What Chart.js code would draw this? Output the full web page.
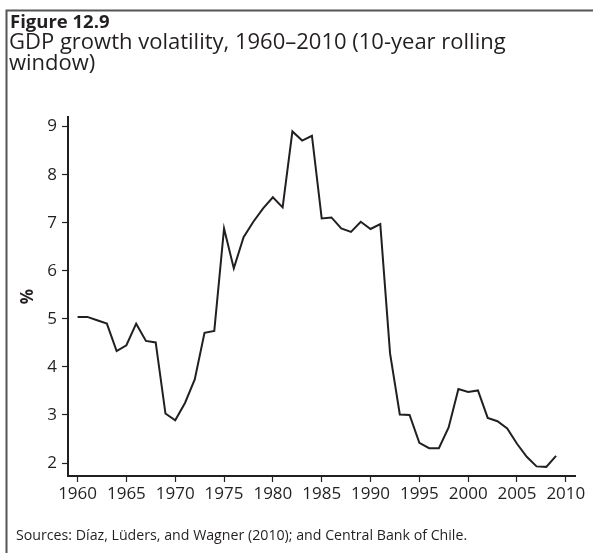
<!DOCTYPE html>
<html>
<head>
<meta charset="utf-8">
<style>
  html, body { margin: 0; padding: 0; background: #fff; }
  #wrap { width: 593px; height: 553px; position: relative; }
</style>
</head>
<body>
<div id="wrap"><canvas id="c"></canvas></div>
<script src="https://cdn.jsdelivr.net/npm/chart.js@4/dist/chart.umd.min.js"></script>
<script>
// GDP growth volatility, 10-year rolling window (%)
const years = [
  1960, 1961, 1962, 1963, 1964, 1965, 1966, 1967, 1968, 1969,
  1970, 1971, 1972, 1973, 1974, 1975, 1976, 1977, 1978, 1979,
  1980, 1981, 1982, 1983, 1984, 1985, 1986, 1987, 1988, 1989,
  1990, 1991, 1992, 1993, 1994, 1995, 1996, 1997, 1998, 1999,
  2000, 2001, 2002, 2003, 2004, 2005, 2006, 2007, 2008, 2009
];
const volatility = [
  5.04, 5.04, 4.97, 4.90, 4.33, 4.45, 4.90, 4.54, 4.51, 3.03,
  2.89, 3.25, 3.74, 4.71, 4.75, 6.88, 6.05, 6.70, 7.02, 7.30,
  7.53, 7.32, 8.90, 8.71, 8.81, 7.09, 7.11, 6.88, 6.81, 7.02,
  6.87, 6.97, 4.28, 3.01, 3.00, 2.42, 2.31, 2.31, 2.74, 3.54,
  3.48, 3.51, 2.94, 2.87, 2.72, 2.40, 2.13, 1.93, 1.92, 2.15
];
const xTickLabels = [1960, 1965, 1970, 1975, 1980, 1985, 1990, 1995, 2000, 2005, 2010];
const yTickLabels = [2, 3, 4, 5, 6, 7, 8, 9];

const figureLabel = 'Figure 12.9';
const titleLines = ['GDP growth volatility, 1960\u20132010 (10-year rolling', 'window)'];
const sourceNote = 'Sources: D\u00edaz, L\u00fcders, and Wagner (2010); and Central Bank of Chile.';

const INK = '#231f20';
const FONT = '"Open Sans", "Noto Sans", sans-serif';

// Frame, heading and source note around the plot
const framePlugin = {
  id: 'frame',
  beforeDraw(chart) {
    const ctx = chart.ctx;
    ctx.save();
    ctx.fillStyle = '#fff';
    ctx.fillRect(0, 0, chart.width, chart.height);
    ctx.restore();
  },
  afterDraw(chart) {
    const ctx = chart.ctx;
    ctx.save();
    ctx.strokeStyle = '#555';
    ctx.lineWidth = 2;
    ctx.beginPath();
    ctx.moveTo(6.5, chart.height);
    ctx.lineTo(6.5, 10.5);
    ctx.lineTo(chart.width, 10.5);
    ctx.stroke();

    ctx.fillStyle = INK;
    ctx.textBaseline = 'alphabetic';
    ctx.textAlign = 'left';
    ctx.font = 'bold 18.5px ' + FONT;
    ctx.fillText(figureLabel, 10, 28);
    ctx.font = '22px ' + FONT;
    ctx.fillText(titleLines[0], 9, 48.5);
    ctx.fillText(titleLines[1], 9, 69.5);
    ctx.font = '14.2px ' + FONT;
    ctx.fillText(sourceNote, 16, 540);
    ctx.restore();
  }
};

new Chart(document.getElementById('c'), {
  type: 'line',
  data: {
    datasets: [{
      data: years.map((y, i) => ({ x: y, y: volatility[i] })),
      borderColor: INK,
      borderWidth: 2,
      pointRadius: 0,
      tension: 0,
      fill: false
    }]
  },
  options: {
    responsive: true,
    maintainAspectRatio: false,
    animation: false,
    devicePixelRatio: 1,
    layout: { padding: { left: 6, right: 18, top: 117, bottom: 37 } },
    plugins: {
      legend: { display: false },
      tooltip: { enabled: false },
      title: { display: false }
    },
    scales: {
      x: {
        type: 'linear',
        min: 1959.02,
        max: 2010.94,
        afterBuildTicks: s => { s.ticks = xTickLabels.map(v => ({ value: v })); },
        afterFit: s => { s.height = 40; },
        ticks: {
          callback: v => String(v),
          color: INK,
          font: { family: FONT, size: 17 },
          padding: 2,
          maxRotation: 0,
          autoSkip: false
        },
        grid: {
          display: true,
          drawOnChartArea: false,
          drawTicks: true,
          tickLength: 6,
          tickColor: INK,
          tickWidth: 1.2
        },
        border: { display: true, color: INK, width: 2 }
      },
      y: {
        type: 'linear',
        min: 1.73,
        max: 9.2,
        afterBuildTicks: s => { s.ticks = yTickLabels.map(v => ({ value: v })); },
        afterFit: s => { s.width = 62; },
        ticks: {
          callback: v => String(v),
          color: INK,
          font: { family: FONT, size: 17 },
          padding: 5
        },
        grid: {
          display: true,
          drawOnChartArea: false,
          drawTicks: true,
          tickLength: 6,
          tickColor: INK,
          tickWidth: 1.2
        },
        border: { display: true, color: INK, width: 2 },
        title: {
          display: true,
          text: '%',
          color: INK,
          font: { family: FONT, size: 17, weight: 'bold' },
          padding: { top: 12, bottom: 0 }
        }
      }
    }
  },
  plugins: [framePlugin]
});
</script>
</body>
</html>
